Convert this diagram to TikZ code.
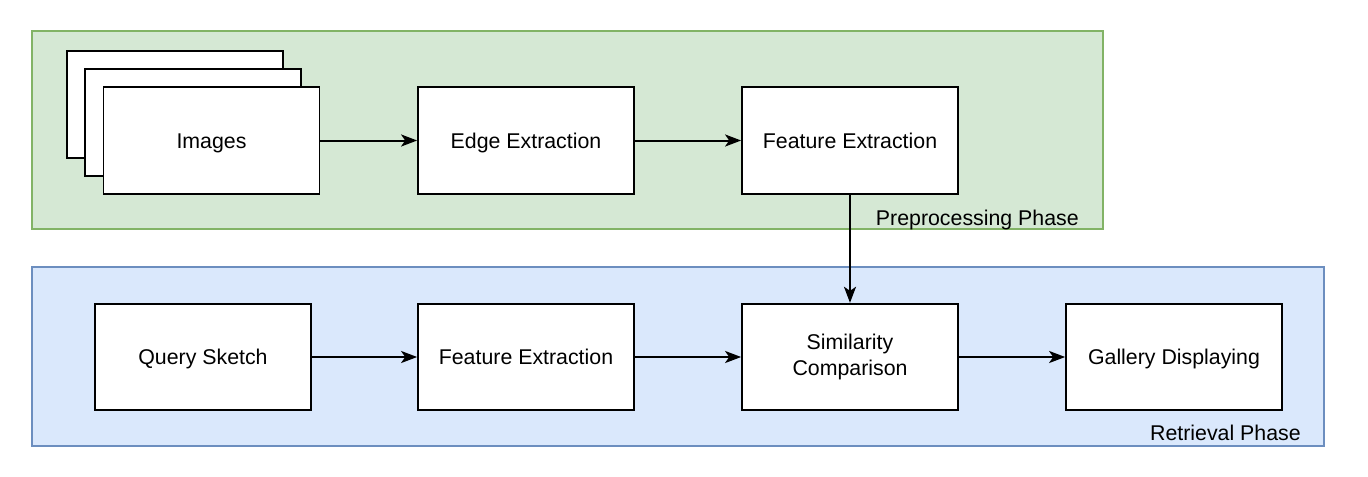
\documentclass[tikz,border=0pt]{standalone}
\usepackage{fontspec}
\setmainfont{Liberation Sans}
\usetikzlibrary{arrows.meta}
\definecolor{phasegreen}{HTML}{D5E8D4}
\definecolor{phasegreenline}{HTML}{82B366}
\definecolor{phaseblue}{HTML}{DAE8FC}
\definecolor{phaseblueline}{HTML}{6C8EBF}
\tikzset{
    procbox/.style={draw=black,fill=white,line width=1.3pt,minimum width=162pt,minimum height=80pt,inner sep=0pt,font=\fontsize{16}{19}\selectfont,align=center,text height=13pt,text depth=1.5pt},
    flow/.style={-{Stealth[length=12pt,width=9pt,inset=3pt]},line width=1.5pt},
    phaselabel/.style={font=\fontsize{16}{19}\selectfont,anchor=base east,inner sep=0pt}
}
\begin{document}
\begin{tikzpicture}[x=0.75pt,y=-0.75pt]
        \useasboundingbox (0,0) rectangle (1368,476);
        % phases
        \filldraw[fill=phasegreen,draw=phasegreenline,line width=1pt] (32,31) rectangle (1103,229);
        \filldraw[fill=phaseblue,draw=phaseblueline,line width=1pt] (32,267) rectangle (1324,446);
        \node[phaselabel] (prelabel) at (1079,225) {Preprocessing Phase};
        \node[phaselabel] (retlabel) at (1301,440) {Retrieval Phase};
        % image stack
        \node[procbox] (imgback) at (175,104.5) {};
        \node[procbox] (imgmid) at (193,122.5) {};
        \node[procbox] (images) at (211.5,140.5) {Images};
        \node[procbox] (edge) at (526,140.5) {Edge Extraction};
        \node[procbox] (featimg) at (850,140.5) {Feature Extraction};
        % retrieval
        \node[procbox] (query) at (203,357) {Query Sketch};
        \node[procbox] (featquery) at (526,357) {Feature Extraction};
        \node[procbox,text height=,text depth=] (simil) at (850,357) {Similarity\\Comparison};
        \node[procbox] (gallery) at (1174,357) {Gallery Displaying};
        % arrows
        \draw[flow] (images) -- (edge);
        \draw[flow] (edge) -- (featimg);
        \draw[flow] (featimg) -- (simil);
        \draw[flow] (query) -- (featquery);
        \draw[flow] (featquery) -- (simil);
        \draw[flow] (simil) -- (gallery);
    \end{tikzpicture}
\end{document}
